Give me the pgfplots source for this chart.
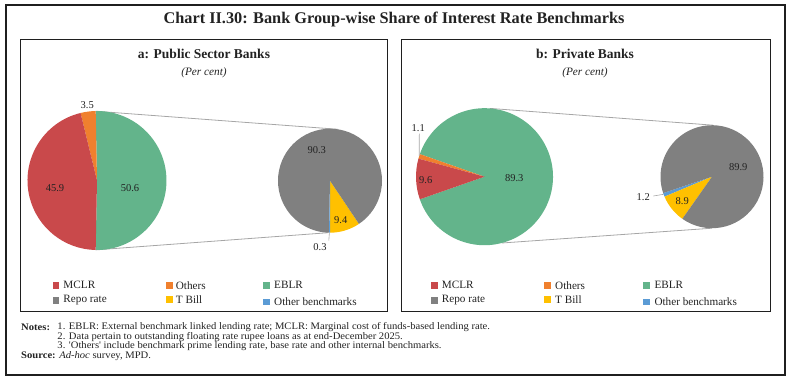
\documentclass[border=0pt]{standalone}
\usepackage{pgfplots}
\pgfplotsset{compat=1.18}
\usepackage{pgfplotstable}
\usepackage{fontspec}
\setmainfont{Liberation Serif}
\newfontfamily\notesfont[FakeStretch=1.06]{Liberation Serif}

\definecolor{cMCLR}{HTML}{C9494B}
\definecolor{cOth}{HTML}{F0802E}
\definecolor{cEBLR}{HTML}{63B48B}
\definecolor{cRepo}{HTML}{808080}
\definecolor{cTB}{HTML}{FFC000}
\definecolor{cOB}{HTML}{5B9BD5}
\definecolor{conn}{HTML}{A6A6A6}
\definecolor{txt}{HTML}{222222}

% Panel a: Public Sector Banks
\pgfplotstableread{
name value color
EBLR 50.6 cEBLR
Others 3.5 cOth
MCLR 45.9 cMCLR
}\PubMain
\pgfplotstableread{
name value color
TBill 9.4 cTB
Repo 90.3 cRepo
OtherBench 0.3 cOB
}\PubSec
% Panel b: Private Banks
\pgfplotstableread{
name value color
EBLR 89.3 cEBLR
Others 1.1 cOth
MCLR 9.6 cMCLR
}\PvtMain
\pgfplotstableread{
name value color
OtherBench 1.2 cOB
TBill 8.9 cTB
Repo 89.9 cRepo
}\PvtSec

\newcommand\fs[1]{\fontsize{#1bp}{#1bp}\selectfont}

% #1 table, #2 cx, #3 cy (pixel coords), #4 radius (bp), #5 start angle
\newcommand\drawpie[5]{%
  \pgfplotstablegetrowsof{#1}%
  \pgfmathtruncatemacro\pienrows{\pgfplotsretval-1}%
  \xdef\piecur{#5}%
  \foreach \i in {0,...,\pienrows}{%
    \pgfplotstablegetelem{\i}{value}\of{#1}\let\pieval\pgfplotsretval
    \pgfplotstablegetelem{\i}{color}\of{#1}\let\piecol\pgfplotsretval
    \pgfmathsetmacro\pieend{\piecur+3.6*\pieval}%
    \edef\temp{\noexpand\fill[\piecol] (axis cs:#2,#3) -- ++(\piecur:#4bp) arc[start angle=\piecur, end angle=\pieend, radius=#4bp] -- cycle;}%
    \temp
    \xdef\piecur{\pieend}%
  }%
}

\begin{document}
\begin{tikzpicture}
\begin{axis}[
  width=790bp, height=383bp, scale only axis,
  xmin=0, xmax=790, ymin=0, ymax=383, y dir=reverse,
  hide axis, clip=false,
]
\path (axis cs:0,0) rectangle (axis cs:790,383);

% frames
\draw[line width=2bp, black!88] (axis cs:5.5,5.2) rectangle (axis cs:785,375);
\draw[line width=1bp, black!88] (axis cs:20.5,39.5) rectangle (axis cs:387.5,311.7);
\draw[line width=1bp, black!88] (axis cs:401,39.5) rectangle (axis cs:770,311.7);

% titles
\node[font={\fs{16.3}\bfseries}, text=txt] at (axis cs:394,19) {Chart II.30: Bank Group-wise Share of Interest Rate Benchmarks};
\node[font={\fs{13.5}\bfseries}, text=txt] at (axis cs:204,53.5) {a: Public Sector Banks};
\node[font={\fs{13.5}\bfseries}, text=txt] at (axis cs:585,53.5) {b: Private Banks};
\node[font={\fs{11.3}\itshape}, text=txt] at (axis cs:204,73) {(Per cent)};
\node[font={\fs{11.3}\itshape}, text=txt] at (axis cs:585,73) {(Per cent)};

% connectors a
\draw[conn, line width=0.8bp] (axis cs:95.7,111.2) -- (axis cs:338.1,129.3);
\draw[conn, line width=0.8bp] (axis cs:95.7,249.9) -- (axis cs:328.2,232.7);
% connectors b
\draw[conn, line width=0.8bp] (axis cs:490,108.4) -- (axis cs:713.3,125.2);
\draw[conn, line width=0.8bp] (axis cs:501.9,243) -- (axis cs:712,228.2);

% pies
\drawpie{\PubMain}{97}{180.5}{69.5}{-91.08}
\drawpie{\PubSec}{330}{180.7}{52}{-90}
\drawpie{\PvtMain}{484.5}{176.7}{68.5}{-160.74}
\drawpie{\PvtSec}{712}{176.7}{51.5}{198.5}

% data labels a
\node[font=\fs{10.5}, text=txt] at (axis cs:87.3,105.5) {3.5};
\node[font=\fs{10.5}, text=txt] at (axis cs:55,188) {45.9};
\node[font=\fs{10.5}, text=txt] at (axis cs:130,188) {50.6};
\node[font=\fs{10.5}, text=txt] at (axis cs:316.7,150) {90.3};
\node[font=\fs{10.5}, text=txt] at (axis cs:340.7,220) {9.4};
\draw[conn, line width=0.6bp] (axis cs:329.4,232.6) -- (axis cs:328.8,240.5);
\node[font=\fs{10.5}, text=txt] at (axis cs:320,246.7) {0.3};
% data labels b
\draw[conn, line width=0.6bp] (axis cs:419.3,133.5) -- (axis cs:419.2,156);
\node[font=\fs{10.5}, text=txt] at (axis cs:418.3,128.5) {1.1};
\node[font=\fs{10.5}, text=txt] at (axis cs:425.7,180) {9.6};
\node[font=\fs{10.5}, text=txt] at (axis cs:514.3,178.3) {89.3};
\node[font=\fs{10.5}, text=txt] at (axis cs:738.3,166.7) {89.9};
\node[font=\fs{10.5}, text=txt] at (axis cs:682.3,201) {8.9};
\draw[conn, line width=0.6bp] (axis cs:653.3,196) -- (axis cs:663.6,194.3);
\node[font=\fs{10.5}, text=txt] at (axis cs:643.3,197.3) {1.2};

% legends a
\fill[cMCLR] (axis cs:52.7,282) rectangle (axis cs:59.4,288.7);
\node[font=\fs{11.2}, text=txt, anchor=west, inner sep=0pt] at (axis cs:63.3,285.3) {MCLR};
\fill[cOth] (axis cs:165.8,282) rectangle (axis cs:172.5,288.7);
\node[font=\fs{11.2}, text=txt, anchor=west, inner sep=0pt] at (axis cs:175.7,285.3) {Others};
\fill[cEBLR] (axis cs:263.3,282) rectangle (axis cs:270,288.7);
\node[font=\fs{11.2}, text=txt, anchor=west, inner sep=0pt] at (axis cs:274,285.3) {EBLR};
\fill[cRepo] (axis cs:52.7,297.2) rectangle (axis cs:59.4,303.9);
\node[font=\fs{11.2}, text=txt, anchor=west, inner sep=0pt] at (axis cs:63.3,300.3) {Repo rate};
\fill[cTB] (axis cs:165.8,296.2) rectangle (axis cs:172.5,302.9);
\node[font=\fs{11.2}, text=txt, anchor=west, inner sep=0pt] at (axis cs:175.7,299.5) {T Bill};
\fill[cOB] (axis cs:263.3,298.7) rectangle (axis cs:270,305.4);
\node[font=\fs{11.2}, text=txt, anchor=west, inner sep=0pt] at (axis cs:274,301.9) {Other benchmarks};
% legends b
\fill[cMCLR] (axis cs:431,282) rectangle (axis cs:437.7,288.7);
\node[font=\fs{11.2}, text=txt, anchor=west, inner sep=0pt] at (axis cs:441.7,285.3) {MCLR};
\fill[cOth] (axis cs:544,282) rectangle (axis cs:550.7,288.7);
\node[font=\fs{11.2}, text=txt, anchor=west, inner sep=0pt] at (axis cs:555,285.3) {Others};
\fill[cEBLR] (axis cs:643.3,282) rectangle (axis cs:650,288.7);
\node[font=\fs{11.2}, text=txt, anchor=west, inner sep=0pt] at (axis cs:654.3,285.3) {EBLR};
\fill[cRepo] (axis cs:431,297.2) rectangle (axis cs:437.7,303.9);
\node[font=\fs{11.2}, text=txt, anchor=west, inner sep=0pt] at (axis cs:441.7,300.3) {Repo rate};
\fill[cTB] (axis cs:544,296.2) rectangle (axis cs:550.7,302.9);
\node[font=\fs{11.2}, text=txt, anchor=west, inner sep=0pt] at (axis cs:555,299.5) {T Bill};
\fill[cOB] (axis cs:643.3,298.7) rectangle (axis cs:650,305.4);
\node[font=\fs{11.2}, text=txt, anchor=west, inner sep=0pt] at (axis cs:654.3,301.9) {Other benchmarks};

% notes
\node[font={\notesfont\fs{10}\bfseries}, text=txt, anchor=west, inner sep=0pt] at (axis cs:21,327) {Notes:};
\node[font={\notesfont\fs{10}}, text=txt, anchor=west, inner sep=0pt] at (axis cs:57.3,327) {1. EBLR: External benchmark linked lending rate; MCLR: Marginal cost of funds-based lending rate.};
\node[font={\notesfont\fs{10}}, text=txt, anchor=west, inner sep=0pt] at (axis cs:57.3,336.7) {2. Data pertain to outstanding floating rate rupee loans as at end-December 2025.};
\node[font={\notesfont\fs{10}}, text=txt, anchor=west, inner sep=0pt] at (axis cs:57.3,346.4) {3. 'Others' include benchmark prime lending rate, base rate and other internal benchmarks.};
\node[font={\notesfont\fs{10}}, text=txt, anchor=west, inner sep=0pt] at (axis cs:21,356.1) {\bfseries Source:\mdseries{} \itshape Ad-hoc\upshape{} survey, MPD.};
\end{axis}
\end{tikzpicture}
\end{document}
